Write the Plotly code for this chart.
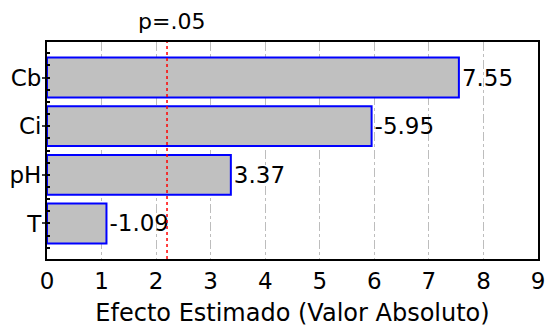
import plotly.graph_objects as go

factors = ["T", "pH", "Ci", "Cb"]
effects = [-1.09, 3.37, -5.95, 7.55]
abs_effects = [abs(v) for v in effects]
labels = [f"{v:.2f}" for v in effects]
positions = list(range(len(factors)))
p_crit = 2.2
x_ticks = list(range(0, 10))

FONT = "DejaVu Sans"

fig = go.Figure()
fig.add_trace(go.Bar(
    y=positions, x=abs_effects, orientation="h",
    marker=dict(color="#c0c0c0", line=dict(color="#0000ff", width=2)),
    width=0.82, text=labels, textposition="outside",
    textfont=dict(size=23, color="black", family=FONT), cliponaxis=False,
))
fig.add_shape(type="line", x0=p_crit, x1=p_crit, y0=0, y1=1, yref="paper",
              line=dict(color="red", width=1.5, dash="dot"))
fig.add_annotation(x=p_crit, y=1, yref="paper", text="p=.05", showarrow=False,
                   yanchor="bottom", xshift=4, yshift=6, font=dict(size=22, color="black"))

fig.update_layout(
    width=546, height=327,
    margin=dict(l=47, r=8, t=42, b=68),
    plot_bgcolor="white", paper_bgcolor="white",
    font=dict(family=FONT, size=22, color="black"),
    showlegend=False,
    xaxis=dict(range=[0, 9], tickvals=x_ticks, showgrid=True, gridcolor="#bdbdbd",
               griddash="dashdot", gridwidth=1, showline=True, linecolor="black",
               linewidth=2, mirror=True, ticks="", automargin=False,
               tickfont=dict(size=23), ticklabeloverflow="allow",
               zeroline=False, title=dict(text="Efecto Estimado (Valor Absoluto)",
                                          font=dict(size=24), standoff=16)),
    yaxis=dict(range=[-0.73, 3.73], tickvals=positions, ticktext=factors,
               showgrid=False, showline=True, linecolor="black", automargin=False,
               linewidth=2, mirror=True, ticks="outside", ticklen=3, tickwidth=2,
               tickfont=dict(size=23), zeroline=False, ticklabelstandoff=-4,
               minor=dict(dtick=0.25, tick0=0, ticks="inside", ticklen=3,
                          tickwidth=2, tickcolor="black", showgrid=False)),
)
fig.write_html("out.html", config={"displayModeBar": False},
               post_script="document.body.style.margin='0';document.body.style.overflow='hidden';")
